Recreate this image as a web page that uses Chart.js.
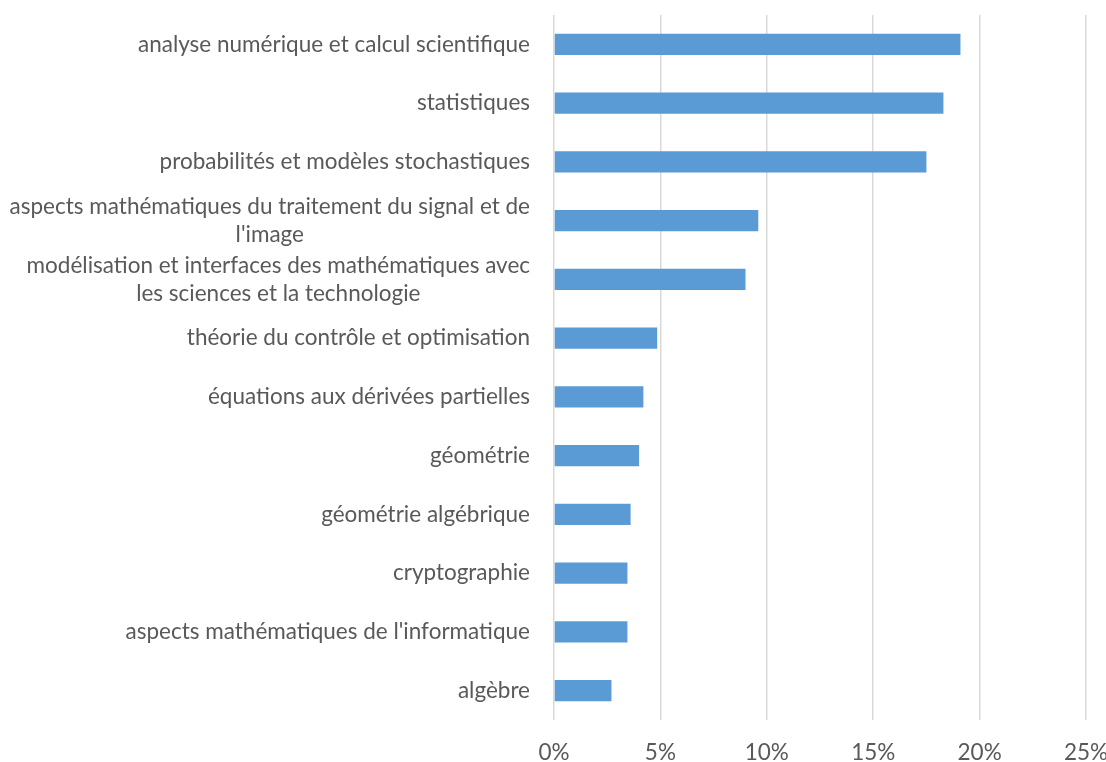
<!DOCTYPE html>
<html>
<head>
<meta charset="utf-8">
<script src="https://cdn.jsdelivr.net/npm/chart.js@4/dist/chart.umd.min.js"></script>
<style>
  html, body { margin: 0; padding: 0; background: #fff; }
  #wrap { width: 1106px; height: 762px; position: relative; }
</style>
</head>
<body>
<div id="wrap"><canvas id="chart"></canvas></div>
<script>
// categories (top to bottom), multi-line ones as arrays
const categories = [
  'analyse numérique et calcul scientifique',
  'statistiques',
  'probabilités et modèles stochastiques',
  ['aspects mathématiques du traitement du signal et de', "l'image"],
  ['modélisation et interfaces des mathématiques avec', 'les sciences et la technologie'],
  'théorie du contrôle et optimisation',
  'équations aux dérivées partielles',
  'géométrie',
  'géométrie algébrique',
  'cryptographie',
  "aspects mathématiques de l'informatique",
  'algèbre'
];
// share in percent
const shares = [19.1, 18.3, 17.5, 9.6, 9.0, 4.85, 4.2, 4.0, 3.6, 3.45, 3.45, 2.7];
const xTicks = [0, 5, 10, 15, 20, 25];

const FONT = 'Lato';
const FONT_SIZE = 22.5;
const TEXT_COLOR = '#595959';

// category labels drawn by hand so wrapped lines are centred inside their block
const yLabels = {
  id: 'yLabels',
  afterDraw(chart) {
    const ctx = chart.ctx;
    const y = chart.scales.y;
    const right = chart.chartArea.left - 24;
    const lineH = 28;
    ctx.save();
    ctx.font = FONT_SIZE + 'px ' + FONT;
    ctx.fillStyle = TEXT_COLOR;
    ctx.textAlign = 'center';
    ctx.textBaseline = 'middle';
    categories.forEach((cat, i) => {
      const lines = Array.isArray(cat) ? cat : [cat];
      const widest = Math.max(...lines.map(l => ctx.measureText(l).width));
      const cx = right - widest / 2;
      const cy = y.getPixelForValue(i);
      const top = cy - (lines.length - 1) * lineH / 2;
      lines.forEach((l, k) => ctx.fillText(l, cx, top + k * lineH));
    });
    ctx.restore();
  }
};

new Chart(document.getElementById('chart'), {
  type: 'bar',
  data: {
    labels: categories,
    datasets: [{
      data: shares,
      backgroundColor: '#5B9BD5',
      barPercentage: 0.36,
      categoryPercentage: 1
    }]
  },
  options: {
    indexAxis: 'y',
    responsive: true,
    maintainAspectRatio: false,
    animation: false,
    layout: { padding: { top: 15, right: 0, bottom: 0, left: 0 } },
    plugins: {
      legend: { display: false },
      tooltip: { enabled: false }
    },
    scales: {
      x: {
        min: 0,
        max: 25,
        afterBuildTicks: (scale) => { scale.ticks = xTicks.map(v => ({ value: v })); },
        afterFit: (scale) => {
          scale.height = 42;
          scale.paddingRight = 20;
        },
        ticks: {
          callback: (v) => v + '%',
          color: TEXT_COLOR,
          font: { family: FONT, size: FONT_SIZE },
          padding: 19
        },
        grid: { color: '#D9D9D9', lineWidth: 1.5, drawTicks: false },
        border: { display: false }
      },
      y: {
        ticks: { display: false },
        grid: { display: false },
        border: { display: false },
        afterFit: (scale) => { scale.width = 554; }
      }
    }
  },
  plugins: [yLabels]
});
</script>
</body>
</html>
